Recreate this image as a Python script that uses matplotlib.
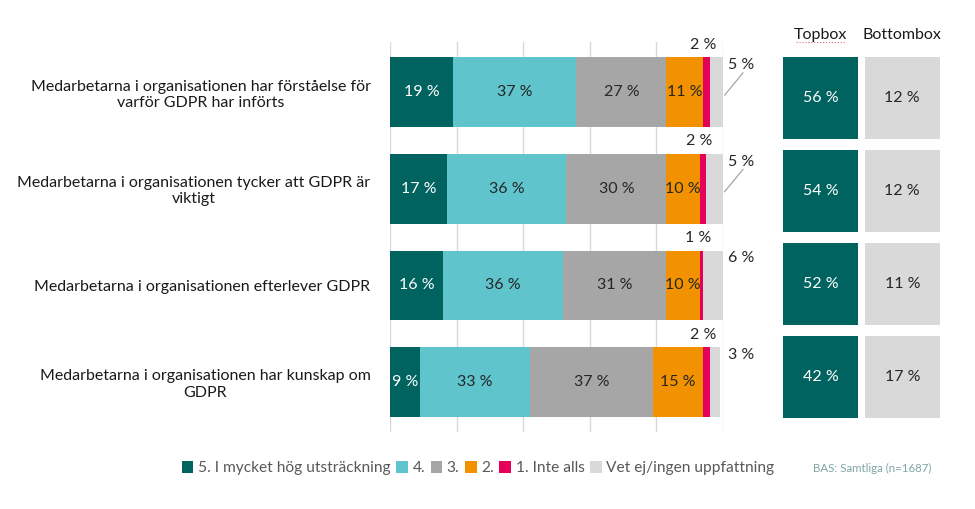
import matplotlib.pyplot as plt
import numpy as np

plt.rcParams['font.family'] = ['Lato', 'DejaVu Sans']

categories = [
    'Medarbetarna i organisationen har förståelse för\nvarför GDPR har införts',
    'Medarbetarna i organisationen tycker att GDPR är\nviktigt',
    'Medarbetarna i organisationen efterlever GDPR',
    'Medarbetarna i organisationen har kunskap om\nGDPR',
]
series_names = ['5. I mycket hög utsträckning', '4.', '3.', '2.', '1. Inte alls',
                'Vet ej/ingen uppfattning']
# rows: categories, columns: series
values = np.array([
    [19, 37, 27, 11, 2, 5],
    [17, 36, 30, 10, 2, 5],
    [16, 36, 31, 10, 1, 6],
    [9, 33, 37, 15, 2, 3],
])
topbox = [56, 54, 52, 42]
bottombox = [12, 12, 11, 17]
colors = ['#00635f', '#5fc4cc', '#a6a6a6', '#f39200', '#e5005a', '#d9d9d9']
label_colors = ['white', '#262626', '#262626', '#262626', '#262626', '#262626']

fig = plt.figure(figsize=(9.75, 5.09), dpi=100)
ax = fig.add_axes([0.4, 0.151, 0.3415, 0.7665])

y = np.arange(len(categories))
left = np.zeros(len(categories))
for j, name in enumerate(series_names):
    ax.barh(y, values[:, j], left=left, height=0.72, color=colors[j],
            label=name, zorder=2)
    for i in range(len(categories)):
        v = values[i, j]
        if j < 4:
            ax.text(left[i] + v / 2, y[i], f'{v} %', ha='center', va='center',
                    fontsize=11.5, color=label_colors[j], zorder=3)
        elif j == 4:
            ax.text(left[i] + v / 2 - 1, y[i] - 0.49, f'{v} %', ha='center',
                    va='center', fontsize=11.5, color='#262626')
        else:
            ax.text(105.5, y[i] - 0.28, f'{v} %', ha='center', va='center',
                    fontsize=11.5, color='#262626', clip_on=False)
    left += values[:, j]

# leader lines for the first two rows
for i in (0, 1):
    ax.plot([100.5, 106], [y[i] + 0.03, y[i] - 0.2], color='#a6a6a6', lw=0.9,
            clip_on=False, zorder=3)

ax.set_xlim(0, 100)
ax.set_ylim(3.52, -0.52)
ax.set_xticks(np.arange(0, 101, 20))
ax.xaxis.grid(True, color='#d9d9d9', lw=1, zorder=0)
ax.tick_params(axis='x', length=0, labelbottom=False)
ax.tick_params(axis='y', length=0, pad=14)
ax.set_yticks(y)
ax.set_yticklabels(categories, fontsize=11.5, color='#1a1a1a',
                   multialignment='center')
for s in ax.spines.values():
    s.set_visible(False)

# topbox / bottombox columns
ax2 = fig.add_axes([0.803, 0.1788, 0.161, 0.7092])
ax2.barh(y, 0.92, left=-0.46, height=0.882, color='#00635f')
ax2.barh(y, 0.92, left=0.54, height=0.882, color='#d9d9d9')
for i in range(len(categories)):
    ax2.text(0, y[i], f'{topbox[i]} %', ha='center', va='center',
             fontsize=11.5, color='white')
    ax2.text(1, y[i], f'{bottombox[i]} %', ha='center', va='center',
             fontsize=11.5, color='#262626')
ax2.set_xlim(-0.46, 1.46)
ax2.set_ylim(3.441, -0.441)
ax2.axis('off')
ax2.text(0, -0.6, 'Topbox', ha='center', va='bottom', fontsize=11.5,
         color='#1a1a1a')
ax2.text(1, -0.6, 'Bottombox', ha='center', va='bottom', fontsize=11.5,
         color='#1a1a1a')
ax2.plot([-0.3, 0.3], [-0.6, -0.6], color='#e07070', lw=0.8, ls=':',
         clip_on=False)

fig.legend(loc='center left', bbox_to_anchor=(0.172, 0.08), ncol=6,
           frameon=False, fontsize=11.2, handlelength=0.75, handleheight=0.75,
           handletextpad=0.3, columnspacing=0.35, labelcolor='#595959')
fig.text(0.955, 0.08, 'BAS: Samtliga (n=1687)', ha='right', va='center',
         fontsize=8.3, color='#7fa6a3')

fig.savefig('out.png', dpi=100)
